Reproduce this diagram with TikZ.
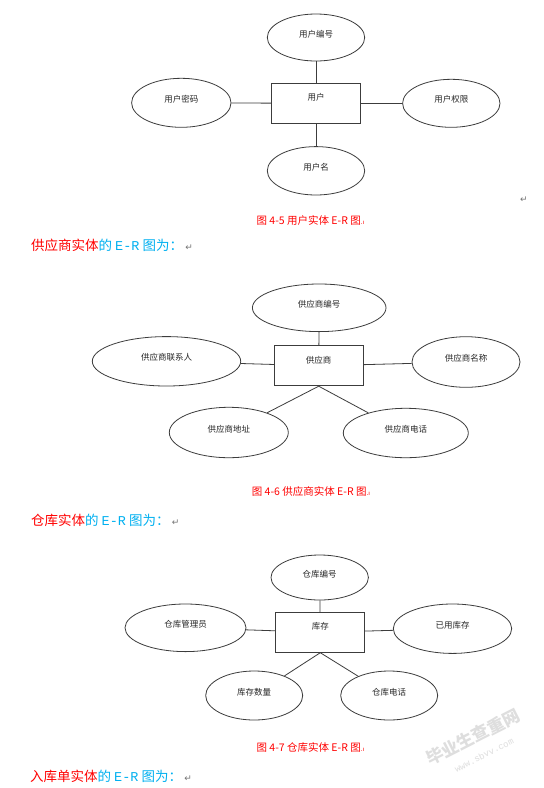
\documentclass[tikz,border=0pt]{standalone}
\usepackage{fontspec}
\usetikzlibrary{shapes.geometric}
\newfontfamily\cjk{Noto Sans CJK SC}
\newfontfamily\monof{Liberation Mono}
\newfontfamily\symf{DejaVu Sans}
\definecolor{headcyan}{RGB}{0,176,240}
\definecolor{linegray}{RGB}{60,60,60}
\tikzset{
  attr/.style 2 args={draw=linegray, ellipse, inner sep=0pt, line width=0.8pt,
    minimum width=#1pt, minimum height=#2pt,
    font=\cjk\fontsize{8.5}{10}\selectfont, text=black!85},
  ent/.style={draw=linegray, rectangle, inner sep=0pt, line width=0.8pt,
    minimum width=89pt, minimum height=40pt,
    font=\cjk\fontsize{8.5}{10}\selectfont, text=black!85},
  lnk/.style={draw=linegray, line width=0.8pt},
  caption/.style={font=\cjk\fontsize{10.5}{12}\selectfont, text=red},
  heading/.style={anchor=west, inner sep=0pt, font=\cjk\fontsize{13.5}{15}\selectfont},
  wmark/.style={text=black!13, rotate=27, inner sep=0pt}
}
\newcommand{\up}[1]{\raisebox{8pt}{#1}}
\newcommand{\upr}[1]{\raisebox{12pt}{#1}}
\newcommand{\retmark}{{\symf\color{black!55}\fontsize{9}{10}\selectfont ↵}}
\newcommand{\capend}{{\symf\fontsize{6}{6}\selectfont .ı}}
\begin{document}
\begin{tikzpicture}[x=1pt,y=-1pt]
\path[use as bounding box, fill=white] (0,0) rectangle (544,788);

% ---------- Diagram 4-5 ----------
\node[ent] (u) at (316,103.3) {\upr{用户}};
\node[attr={97.4}{47}] (u1) at (316,37.5) {\up{用户编号}};
\node[attr={99.4}{49}] (u2) at (181.3,102.8) {\up{用户密码}};
\node[attr={97.4}{48}] (u3) at (451.3,103.3) {\up{用户权限}};
\node[attr={97.4}{48.4}] (u4) at (316,170.8) {\up{用户名}};
\draw[lnk] (u) -- (u1);
\draw[lnk] (u) -- (u2);
\draw[lnk] (u) -- (u3);
\draw[lnk] (u) -- (u4);
\node[caption] (c1) at (310.5,220) {图 4-5 用户实体 E-R 图\capend};
\node[inner sep=0pt] (r1) at (524,200) {\retmark};

\node[heading] (h2) at (31,245) {{\color{red}供应商实体}{\color{headcyan}的 {\monof E-R} 图为：}\,\retmark};

% ---------- Diagram 4-6 ----------
\node[ent] (s) at (318.7,365.8) {\upr{供应商}};
\node[attr={133.6}{47.6}] (s1) at (319.2,307.8) {\up{供应商编号}};
\node[attr={148.4}{49.4}] (s2) at (166.5,361.3) {\up{供应商联系人}};
\node[attr={108}{50.6}] (s3) at (466,362) {\up{供应商名称}};
\node[attr={119}{50.4}] (s4) at (228.8,432.5) {\up{供应商地址}};
\node[attr={125}{49.4}] (s5) at (405.8,433) {\up{供应商电话}};
\draw[lnk] (s) -- (s1);
\draw[lnk] (s2) -- (s);
\draw[lnk] (s) -- (s3);
\draw[lnk] (s.south) -- (s4);
\draw[lnk] (s.south) -- (s5);
\node[caption] (c2) at (311,491.7) {图 4-6 供应商实体 E-R 图\capend};

\node[heading] (h3) at (31,520) {{\color{red}仓库实体}{\color{headcyan}的 {\monof E-R} 图为：}\,\retmark};

% ---------- Diagram 4-7 ----------
\node[ent] (k) at (320.3,632.3) {\upr{库存}};
\node[attr={97.4}{45}] (k1) at (319.7,577.5) {\up{仓库编号}};
\node[attr={121}{47.6}] (k2) at (185.5,627.8) {\up{仓库管理员}};
\node[attr={118.4}{49.4}] (k3) at (452.5,628.7) {\up{已用库存}};
\node[attr={97}{49}] (k4) at (254.2,695.5) {\up{库存数量}};
\node[attr={97}{49}] (k5) at (389.2,695.5) {\up{仓库电话}};
\draw[lnk] (k) -- (k1);
\draw[lnk] (k2) -- (k);
\draw[lnk] (k) -- (k3);
\draw[lnk] (k.south) -- (k4);
\draw[lnk] (k.south) -- (k5);
\node[caption] (c3) at (310.5,747.3) {图 4-7 仓库实体 E-R 图\capend};

\node[heading] (h4) at (30,776.7) {{\color{red}入库单实体}{\color{headcyan}的 {\monof E-R} 图为：}\,\retmark};

% watermark
\node[wmark, font=\cjk\bfseries\fontsize{17}{17}\selectfont] (w1) at (473,737) {毕业生查重网};
\node[wmark, font=\monof\fontsize{9}{9}\selectfont] (w2) at (484,755) {www.sbvv.com};
\end{tikzpicture}
\end{document}
